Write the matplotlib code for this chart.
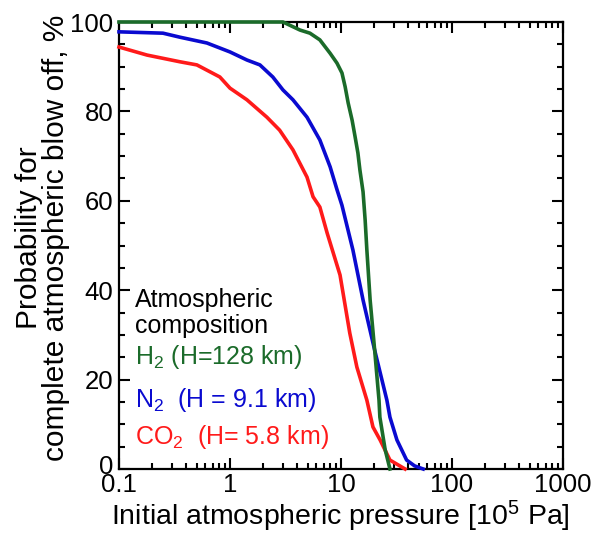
import matplotlib
matplotlib.use("Agg")
import matplotlib.pyplot as plt
import matplotlib.transforms as mtransforms
from matplotlib.ticker import MultipleLocator, LogLocator, NullFormatter, FixedLocator, FixedFormatter

plt.rcParams['font.family'] = ['Liberation Sans', 'DejaVu Sans']
plt.rcParams['mathtext.fontset'] = 'custom'
plt.rcParams['mathtext.rm'] = 'Liberation Sans'
plt.rcParams['mathtext.it'] = 'Liberation Sans'

# Data (pressure in 10^5 Pa, probability in %)
h2_p = [0.1, 1.0, 3.0, 4.27, 5.25, 6.45, 7.98, 9.2, 10.2, 10.9, 11.6, 12.6, 13.4, 14.2,
        14.8, 15.8, 16.5, 17.1, 18.3, 20.1, 22.0, 22.4, 25.0, 27.6]
h2_prob = [100, 100, 100, 98.2, 97.5, 96, 93, 90.8, 88.6, 85.5, 81.9, 78, 74.3, 70.7,
           66.9, 62, 55.7, 49, 37.8, 26.6, 15.4, 11.6, 4.3, 0]

n2_p = [0.1, 0.249, 0.354, 0.62, 1.0, 1.42, 1.86, 2.43, 3.0, 3.69, 4.94, 6.45, 7.98, 9.2,
        10.2, 12.8, 15.8, 20.1, 25.9, 27.6, 31.9, 39, 46, 55]
n2_prob = [97.8, 97.5, 96.6, 95.3, 93.3, 91.5, 90.4, 87.7, 84.8, 82.6, 78.7, 73.6, 67.6, 62.5,
           59.0, 49, 37.8, 26.6, 15.4, 11.6, 6.5, 2, 0.7, 0]

co2_p = [0.1, 0.179, 0.354, 0.503, 0.81, 1.0, 1.42, 2.15, 2.8, 3.69, 4.94, 5.6, 6.45, 7.5,
         9.8, 12.0, 13.9, 17.1, 19.4, 22.5, 27.6, 37.8]
co2_prob = [94.4, 92.6, 91.1, 90.4, 87.7, 85.2, 82.6, 78.7, 75.8, 71.4, 65.3, 60.9, 58.6, 52.8,
            43.4, 30.4, 22.8, 15.4, 9.4, 6.5, 2, 0]

x_ticks = [0.1, 1, 10, 100, 1000]
x_ticklabels = ["0.1", "1", "10", "100", "1000"]
y_ticks = [0, 20, 40, 60, 80, 100]

green = "#1b6b2a"
blue = "#0a0ad0"
red = "#ff1a1a"

fig = plt.figure(figsize=(6.04, 5.37), dpi=100)
ax = fig.add_axes([119/604, 1-469/537, 444/604, 447/537])

lw = 2.6
ax.plot(co2_p, co2_prob, color=red, lw=lw, clip_on=False, zorder=3)
ax.plot(n2_p, n2_prob, color=blue, lw=lw, clip_on=False, zorder=4)
ax.plot(h2_p, h2_prob, color=green, lw=lw, clip_on=False, zorder=5)

ax.set_xscale('log')
ax.set_xlim(0.1, 1000)
ax.set_ylim(0, 100)
ax.xaxis.set_major_locator(FixedLocator(x_ticks))
ax.xaxis.set_major_formatter(FixedFormatter(x_ticklabels))
ax.xaxis.set_minor_locator(LogLocator(base=10, subs=range(2, 10)))
ax.xaxis.set_minor_formatter(NullFormatter())
ax.yaxis.set_major_locator(FixedLocator(y_ticks))
ax.yaxis.set_minor_locator(MultipleLocator(5))

for s in ax.spines.values():
    s.set_linewidth(1.6)
ax.tick_params(which='both', direction='in', top=True, right=True, width=1.5)
ax.tick_params(which='major', length=8, labelsize=18.5)
ax.tick_params(axis='x', which='major', pad=3)
ax.tick_params(axis='y', which='major', pad=4)
ax.tick_params(which='minor', length=4)

# nudge the y "0" label up slightly so it does not collide with "0.1"
fig.canvas.draw()
ylabels0 = ax.get_yticklabels()[0]
ylabels0.set_transform(ylabels0.get_transform() +
                       mtransforms.ScaledTranslation(0, 4/100, fig.dpi_scale_trans))

fig.text(0.564, 0.038, r"Initial atmospheric pressure [10$^5$ Pa]", ha='center', va='center', fontsize=20.5)
fig.text(0.070, 0.557, "Probability for\ncomplete atmospheric blow off, %", rotation=90,
         ha='center', va='center', fontsize=21.5, linespacing=0.95)

ax.text(0.036, 0.378, "Atmospheric", transform=ax.transAxes, fontsize=18, va='center', color='black')
ax.text(0.036, 0.32, "composition", transform=ax.transAxes, fontsize=18, va='center', color='black')
ax.text(0.036, 0.25, r"H$_2$ (H=128 km)", transform=ax.transAxes, fontsize=18, va='center', color=green)
ax.text(0.036, 0.154, r"N$_2$  (H = 9.1 km)", transform=ax.transAxes, fontsize=18, va='center', color=blue)
ax.text(0.036, 0.072, r"CO$_2$  (H= 5.8 km)", transform=ax.transAxes, fontsize=18, va='center', color=red)

fig.savefig("out.png", dpi=100)
